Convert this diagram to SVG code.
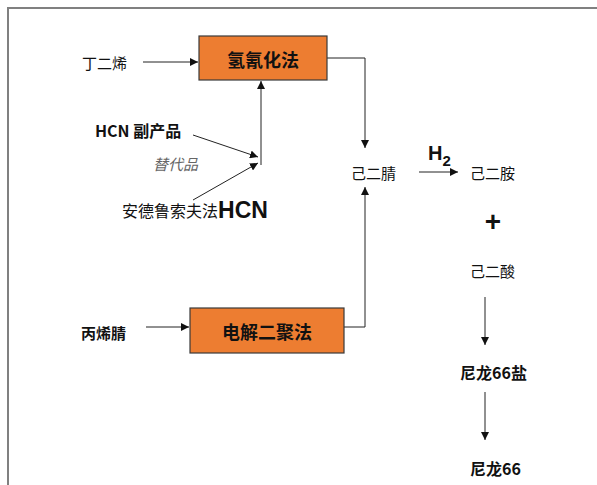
<svg xmlns="http://www.w3.org/2000/svg" width="597" height="485" viewBox="0 0 597 485">
<style>
text{font-family:"Noto Sans CJK SC","Liberation Sans",sans-serif;fill:#111;font-size:15px;dominant-baseline:central}
.b{font-weight:bold}
.box{fill:#ED7D31;stroke:#3a3a3a;stroke-width:1.2}
.bt{font-size:18px;font-weight:bold;text-anchor:middle}
.c{fill:none;stroke:#222;stroke-width:1}
.lat{font-family:"Liberation Sans",sans-serif;font-weight:bold}
</style>
<defs>
<marker id="a" viewBox="0 0 10 10" refX="10" refY="5" markerWidth="8" markerHeight="8" markerUnits="userSpaceOnUse" orient="auto">
<path d="M0,0L10,5L0,10z" fill="#111"/>
</marker>
</defs>
<rect width="597" height="485" fill="#fff"/>
<path d="M8,485V8H597" fill="none" stroke="#808080" stroke-width="2"/>
<g id="connectors">
<path class="c" d="M143,62H198" marker-end="url(#a)"/>
<path class="c" d="M261,165V81" marker-end="url(#a)"/>
<path class="c" d="M193,135L258,157" marker-end="url(#a)"/>
<path class="c" d="M193,200L258,163" marker-end="url(#a)"/>
<path class="c" d="M327,58H365V148" marker-end="url(#a)"/>
<path class="c" d="M146,327H189" marker-end="url(#a)"/>
<path class="c" d="M344,327H365V187" marker-end="url(#a)"/>
<path class="c" d="M419,172H458" marker-end="url(#a)"/>
<path class="c" d="M485,297V345" marker-end="url(#a)"/>
<path class="c" d="M485,392V440" marker-end="url(#a)"/>
</g>
<g id="n-butadiene"><text x="82" y="62">丁二烯</text></g>
<g id="n-hydrocyanation"><rect class="box" x="199" y="36" width="128" height="44"/><text class="bt" x="263" y="59">氢氰化法</text></g>
<g id="n-hcn-byproduct"><text class="b" x="95" y="130" style="font-size:16px">HCN 副产品</text></g>
<g id="n-substitute"><text x="153" y="163" style="fill:#666;font-style:italic">替代品</text></g>
<g id="n-andrussow"><text x="122" y="210" style="font-size:16px">安德鲁索夫法<tspan class="lat" style="font-size:23px">HCN</tspan></text></g>
<g id="n-adn"><text x="351" y="172">己二腈</text></g>
<g id="n-h2"><text class="lat" x="428" y="153" style="font-size:20px">H<tspan style="font-size:15px" dy="7">2</tspan></text></g>
<g id="n-hmda"><text x="470" y="172">己二胺</text></g>
<g id="n-plus"><text class="lat" x="493" y="221" style="font-size:28px;text-anchor:middle">+</text></g>
<g id="n-adipic"><text x="470" y="270">己二酸</text></g>
<g id="n-acrylonitrile"><text class="b" x="81" y="332">丙烯腈</text></g>
<g id="n-electro"><rect class="box" x="190" y="308" width="154" height="45"/><text class="bt" x="267" y="331">电解二聚法</text></g>
<g id="n-salt"><text class="b" x="460" y="372" style="font-size:16px">尼龙66盐</text></g>
<g id="n-nylon"><text class="b" x="470" y="468" style="font-size:16px">尼龙66</text></g>
</svg>
